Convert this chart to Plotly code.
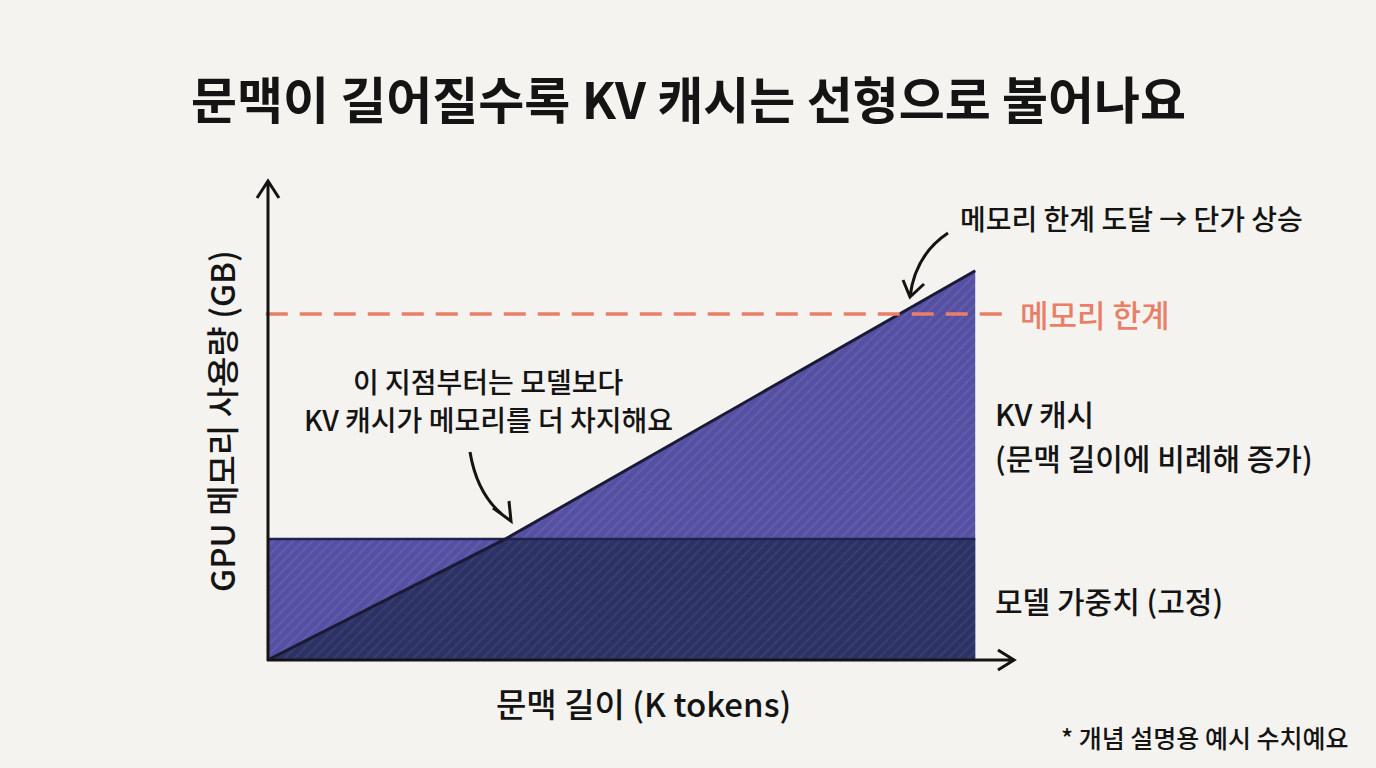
import plotly.graph_objects as go

# data (no tick labels, so units are K tokens / GB)
context_k = [0, 43, 128]
kv_cache_gb = [0, 14, 45]
weights_gb = [14, 14, 14]
memory_limit_gb = 40

title = "문맥이 길어질수록 KV 캐시는 선형으로 불어나요"
x_title = "문맥 길이 (K tokens)"
y_title = "GPU 메모리 사용량 (GB)"

FONT = "Noto Sans CJK KR"
BG = "#f4f3ef"
INK = "#141414"
NAVY = "#2d3264"
PURPLE = "#5650a3"
SALMON = "#e97f68"

# plot area in pixels
L, T, R, B = 268, 180, 1015, 660
W, H = R - L, B - T
X_MAX, Y_MAX = 135.2, 55.5


def px(x, y):
    """pixel -> paper coords of the plot area"""
    return (x - L) / W, (B - y) / H


def path(*strokes):
    # each stroke is a polyline / or ('Q', start, ctrl, end)
    out = []
    for s in strokes:
        if s[0] == "Q":
            a, c, b = (px(*p) for p in s[1:])
            out.append("M %.4f,%.4f Q %.4f,%.4f %.4f,%.4f" % (*a, *c, *b))
        else:
            pts = [px(*p) for p in s]
            out.append("M %.4f,%.4f " % pts[0] + " ".join("L %.4f,%.4f" % p for p in pts[1:]))
    return " ".join(out)


upper = [max(k, w) for k, w in zip(kv_cache_gb, weights_gb)]
lower = [min(k, w) for k, w in zip(kv_cache_gb, weights_gb)]

fig = go.Figure()
fig.add_trace(go.Scatter(x=context_k, y=upper, mode="lines", line=dict(width=0),
                         fill="tozeroy", fillcolor=PURPLE,
                         fillpattern=dict(shape="/", bgcolor=PURPLE, fgcolor="#6f6ab4",
                                          size=7, solidity=0.25),
                         hoverinfo="skip", showlegend=False))
fig.add_trace(go.Scatter(x=context_k, y=lower, mode="lines", line=dict(width=0),
                         fill="tozeroy", fillcolor=NAVY,
                         fillpattern=dict(shape="/", bgcolor=NAVY, fgcolor="#454b7c",
                                          size=7, solidity=0.25),
                         hoverinfo="skip", showlegend=False))
fig.add_trace(go.Scatter(x=context_k, y=weights_gb, mode="lines",
                         line=dict(color="#1f2350", width=2.5),
                         hoverinfo="skip", showlegend=False))
fig.add_trace(go.Scatter(x=context_k, y=kv_cache_gb, mode="lines",
                         line=dict(color="#1a1a36", width=3),
                         hoverinfo="skip", showlegend=False))

shapes = [
    # memory limit dashed line
    dict(type="line", xref="paper", yref="y", x0=-0.003, x1=0.985,
         y0=memory_limit_gb, y1=memory_limit_gb,
         line=dict(color=SALMON, width=3.5, dash="22px,12px")),
    # axes with open arrowheads
    dict(type="path", xref="paper", yref="paper",
         path=path([(268, 661), (268, 181)], [(257, 198), (268, 181), (279, 198)]),
         line=dict(color=INK, width=3)),
    dict(type="path", xref="paper", yref="paper",
         path=path([(267, 660), (1014, 660)], [(998, 650), (1014, 660), (998, 670)]),
         line=dict(color=INK, width=3)),
    # curved pointer to crossing point
    dict(type="path", xref="paper", yref="paper",
         path=path(("Q", (470, 452), (478, 500), (511, 521)),
                   [(493, 508), (511, 521), (509, 501)]),
         line=dict(color=INK, width=3)),
    # curved pointer to memory limit crossing
    dict(type="path", xref="paper", yref="paper",
         path=path(("Q", (948, 233), (915, 255), (910, 297)),
                   [(903, 280), (910, 297), (924, 284)]),
         line=dict(color=INK, width=3)),
]


def note(x, y, text, size, color=INK, xanchor="left", weight=500):
    xp, yp = px(x, y)
    return dict(x=xp, y=yp, xref="paper", yref="paper", text=text,
                showarrow=False, xanchor=xanchor, yanchor="middle",
                font=dict(family=FONT, size=size, color=color, weight=weight))


annotations = [
    note(688, 97, title, 50, xanchor="center", weight=700),
    note(643, 703, x_title, 33, xanchor="center"),
    note(1018, 313, "메모리 한계", 31, color=SALMON),
    note(993, 413, "KV 캐시", 30),
    note(993, 457, "(문맥 길이에 비례해 증가)", 30),
    note(993, 600, "모델 가중치 (고정)", 30),
    note(488, 381, "이 지점부터는 모델보다", 28, xanchor="center"),
    note(488, 419, "KV 캐시가 메모리를 더 차지해요", 28, xanchor="center"),
    note(1131, 218, "메모리 한계 도달 → 단가 상승", 28, xanchor="center"),
    note(1351, 737, "* 개념 설명용 예시 수치예요", 25, xanchor="right"),
]
yx, yy = px(221, 421)
annotations.append(dict(x=yx, y=yy, xref="paper", yref="paper", text=y_title, textangle=-90,
                        showarrow=False, xanchor="center", yanchor="middle",
                        font=dict(family=FONT, size=33, color=INK, weight=500)))

fig.update_layout(
    width=1376, height=768,
    margin=dict(l=L, r=1376 - R, t=T, b=768 - B),
    paper_bgcolor=BG, plot_bgcolor=BG,
    xaxis=dict(range=[0, X_MAX], visible=False, fixedrange=True),
    yaxis=dict(range=[0, Y_MAX], visible=False, fixedrange=True),
    shapes=shapes, annotations=annotations,
    font=dict(family=FONT),
)

# drop the default body margin so the figure sits flush in the window
fig.write_html("out.html", config={"displayModeBar": False},
               post_script="document.body.style.margin='0';document.body.style.background='%s';" % BG)
